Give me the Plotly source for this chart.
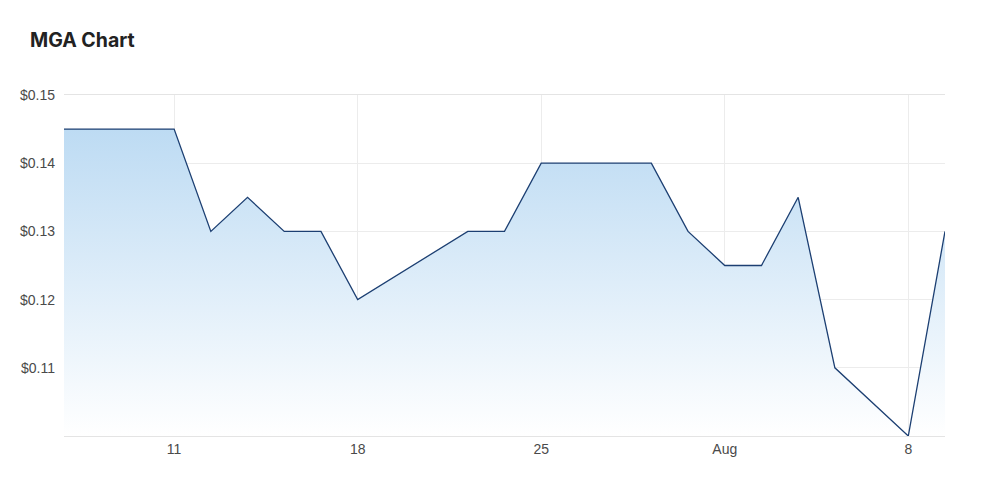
import plotly.graph_objects as go

# MGA daily close prices (trading days, July-Aug 2022)
dates = [
    "2022-07-06", "2022-07-07", "2022-07-08", "2022-07-11", "2022-07-12",
    "2022-07-13", "2022-07-14", "2022-07-15", "2022-07-18", "2022-07-21",
    "2022-07-22", "2022-07-25", "2022-07-26", "2022-07-27", "2022-07-28",
    "2022-07-29", "2022-08-01", "2022-08-02", "2022-08-03", "2022-08-04",
    "2022-08-08", "2022-08-09",
]
prices = [
    0.145, 0.145, 0.145, 0.145, 0.130,
    0.135, 0.130, 0.130, 0.120, 0.130,
    0.130, 0.140, 0.140, 0.140, 0.140,
    0.130, 0.125, 0.125, 0.135, 0.110,
    0.100, 0.130,
]

tick_dates = ["2022-07-11", "2022-07-18", "2022-07-25", "2022-08-01", "2022-08-08"]
tick_labels = ["11", "18", "25", "Aug", "8"]
y_ticks = [0.11, 0.12, 0.13, 0.14, 0.15]

fig = go.Figure()
fig.add_trace(go.Scatter(
    x=dates,
    y=prices,
    mode="lines",
    line=dict(color="#1c3f72", width=1.3),
    fill="tozeroy",
    fillgradient=dict(
        type="vertical",
        start=0.1,
        stop=0.145,
        colorscale=[[0, "rgba(255,255,255,1)"], [1, "#bddbf3"]],
    ),
    hoverinfo="x+y",
    showlegend=False,
))

fig.update_layout(
    width=1000,
    height=478,
    title=dict(
        text="<b>MGA Chart</b>",
        x=0.022, xanchor="left",
        y=0.933, yanchor="middle",
        font=dict(family="Inter", size=19.5, color="#222222"),
    ),
    margin=dict(l=56, r=63, t=87, b=50),
    plot_bgcolor="white",
    paper_bgcolor="white",
    font=dict(family="Liberation Sans, Arial", size=14, color="#4a4a4a"),
)

fig.update_xaxes(
    type="date",
    range=["2022-07-06", "2022-08-09"],
    rangebreaks=[dict(bounds=["sat", "mon"])],
    tickvals=tick_dates,
    ticktext=tick_labels,
    showgrid=True,
    gridcolor="#ececec",
    showline=True,
    linecolor="#e4e4e4",
    mirror=True,
    ticks="",
    zeroline=False,
)
fig.update_yaxes(
    range=[0.1, 0.15],
    tickvals=y_ticks,
    ticktext=["$%.2f" % v for v in y_ticks],
    showgrid=True,
    gridcolor="#ececec",
    showline=False,
    zeroline=False,
    ticks="",
    ticklabelstandoff=8,
)

fig.write_html("out.html")
